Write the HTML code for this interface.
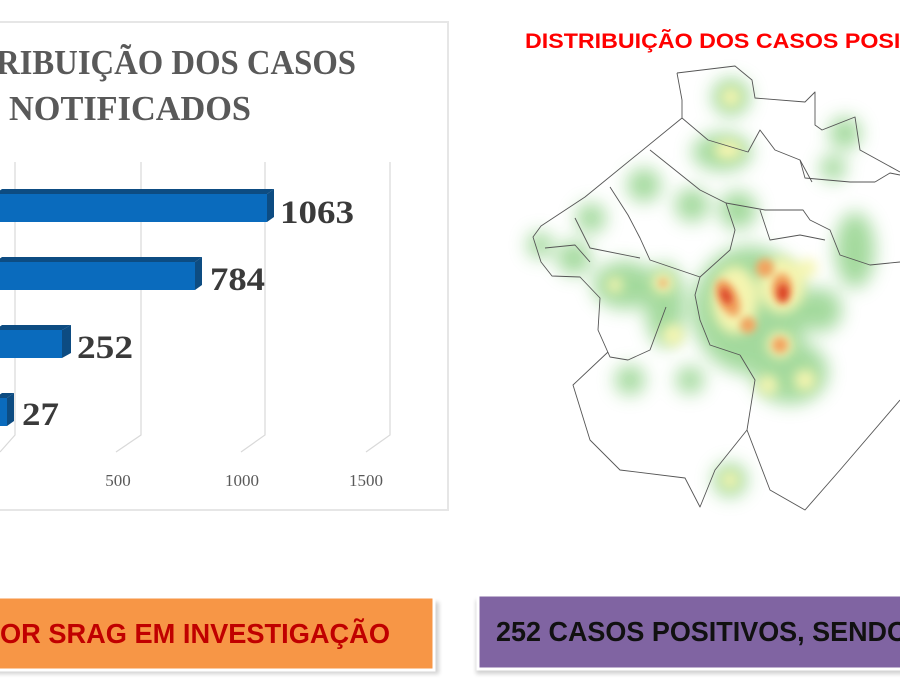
<!DOCTYPE html>
<html><head><meta charset="utf-8"><style>
html,body{margin:0;padding:0;background:#fff;width:900px;height:700px;overflow:hidden}
</style></head><body>
<svg width="900" height="700" viewBox="0 0 900 700" xmlns="http://www.w3.org/2000/svg">
<defs>
<filter id="b1" x="-50%" y="-50%" width="200%" height="200%"><feGaussianBlur stdDeviation="9"/></filter>
<filter id="b2" x="-50%" y="-50%" width="200%" height="200%"><feGaussianBlur stdDeviation="6"/></filter>
<filter id="b3" x="-50%" y="-50%" width="200%" height="200%"><feGaussianBlur stdDeviation="4"/></filter>
<filter id="sh"><feGaussianBlur stdDeviation="2"/></filter>
</defs>
<!-- left chart box -->
<rect x="-2" y="22" width="450" height="488" fill="#fff" stroke="#e6e6e6" stroke-width="2"/>
<g font-family="Liberation Serif, serif" font-weight="bold" fill="#595959" font-size="35">
<text x="-4" y="74" textLength="360" lengthAdjust="spacingAndGlyphs">RIBUIÇÃO DOS CASOS</text>
<text x="9" y="120" textLength="242" lengthAdjust="spacingAndGlyphs">NOTIFICADOS</text>
</g>
<!-- gridlines -->
<g stroke="#d9d9d9" stroke-width="1.2" fill="none">
<polyline points="15,162 15,435 0,452"/>
<polyline points="141,162 141,435 116,452"/>
<polyline points="265,162 265,435 241,452"/>
<polyline points="390,162 390,435 366,452"/>
</g>
<g font-family="Liberation Serif, serif" font-size="17" fill="#595959" text-anchor="middle">
<text x="118" y="486">500</text><text x="242" y="486">1000</text><text x="366" y="486">1500</text>
</g>
<!-- bars -->
<g>
<rect x="-5" y="194" width="272" height="28" fill="#0a6bbd"/>
<polygon points="-5,194 267,194 274,189 2,189" fill="#0d4c82"/>
<polygon points="267,194 274,189 274,217 267,222" fill="#0d4c82"/>
<rect x="-5" y="262" width="200" height="28" fill="#0a6bbd"/>
<polygon points="-5,262 195,262 202,257 2,257" fill="#0d4c82"/>
<polygon points="195,262 202,257 202,285 195,290" fill="#0d4c82"/>
<rect x="-5" y="330" width="67" height="28" fill="#0a6bbd"/>
<polygon points="-5,330 62,330 71,325 2,325" fill="#0d4c82"/>
<polygon points="62,330 71,325 71,353 62,358" fill="#0d4c82"/>
<rect x="-5" y="398" width="12" height="28" fill="#0a6bbd"/>
<polygon points="7,398 14,393 14,421 7,426" fill="#0d4c82"/>
<polygon points="-5,398 7,398 14,393 2,393" fill="#0d4c82"/>
</g>
<g font-family="Liberation Serif, serif" font-weight="bold" font-size="33" fill="#3a3a3a">
<text x="280" y="223" textLength="74" lengthAdjust="spacingAndGlyphs">1063</text>
<text x="210" y="290" textLength="55" lengthAdjust="spacingAndGlyphs">784</text>
<text x="77" y="358" textLength="56" lengthAdjust="spacingAndGlyphs">252</text>
<text x="22" y="425" textLength="37" lengthAdjust="spacingAndGlyphs">27</text>
</g>
<!-- map title -->
<text x="525" y="48" font-family="Liberation Sans, sans-serif" font-weight="bold" font-size="21" fill="#ff0000" textLength="445" lengthAdjust="spacingAndGlyphs">DISTRIBUIÇÃO DOS CASOS POSITIVOS</text>
<!-- heat: green -->
<g filter="url(#b1)" fill="#9fd898" opacity="0.95">
<circle cx="731" cy="97" r="19"/><ellipse cx="722" cy="152" rx="30" ry="19"/>
<circle cx="845" cy="133" r="16"/><circle cx="833" cy="168" r="13"/>
<circle cx="738" cy="210" r="19"/><circle cx="644" cy="185" r="17"/>
<circle cx="692" cy="205" r="17"/><circle cx="591" cy="218" r="15"/>
<circle cx="574" cy="258" r="17"/><circle cx="540" cy="245" r="13"/>
<ellipse cx="625" cy="285" rx="32" ry="24"/><ellipse cx="665" cy="305" rx="20" ry="42"/>
<ellipse cx="750" cy="310" rx="58" ry="64"/><ellipse cx="790" cy="372" rx="38" ry="32"/>
<ellipse cx="855" cy="250" rx="20" ry="38"/><circle cx="730" cy="480" r="17"/>
<circle cx="630" cy="380" r="15"/><circle cx="690" cy="380" r="14"/>
<circle cx="820" cy="310" r="22"/>
</g>
<g filter="url(#b2)" fill="#f5f5b0">
<circle cx="731" cy="97" r="10"/><ellipse cx="728" cy="150" rx="14" ry="10"/>
<circle cx="663" cy="283" r="11"/><circle cx="673" cy="335" r="11"/>
<ellipse cx="735" cy="300" rx="23" ry="34"/><ellipse cx="782" cy="285" rx="23" ry="28"/>
<circle cx="808" cy="268" r="9"/><circle cx="780" cy="345" r="13"/>
<circle cx="768" cy="385" r="10"/><circle cx="805" cy="380" r="11"/>
<circle cx="730" cy="480" r="9"/><circle cx="615" cy="285" r="8"/>
</g>
<g filter="url(#b3)" fill="#f2a35f">
<ellipse cx="728" cy="298" rx="10" ry="20" transform="rotate(-25 728 298)"/>
<circle cx="748" cy="325" r="8"/><circle cx="765" cy="268" r="9"/>
<ellipse cx="782" cy="288" rx="10" ry="15"/><circle cx="780" cy="345" r="8"/>
<circle cx="663" cy="283" r="4"/>
</g>
<g filter="url(#b3)" fill="#d7301f">
<ellipse cx="783" cy="293" rx="5" ry="9"/><ellipse cx="726" cy="296" rx="4" ry="9" transform="rotate(-25 726 296)"/>
</g>
<!-- map outlines -->
<g stroke="#555" stroke-width="0.9" fill="none" stroke-linejoin="round">
<path d="M677,73 L735,66 L752,80 L755,98 L805,102 L815,92 L815,125 L822,130 L855,117 L860,150 L900,172"/>
<path d="M677,73 L682,100 L682,118 L585,197 L541,226 L533,237 L541,262 L552,276 L580,277 L600,298 L598,330 L610,357 L628,360 L650,350 L666,307"/>
<path d="M682,118 L708,140 L748,152 L760,130 L775,150 L800,160 L805,178 L850,182 L875,182"/>
<path d="M650,150 L700,190 L726,203 L765,210 L803,210 L810,220 L830,230 L840,255 L855,260 L870,265 L900,262"/>
<path d="M610,187 L628,215 L640,238 L650,260 L700,277 L730,250 L735,230 L726,203"/>
<path d="M575,218 L590,248 L640,258"/>
<path d="M700,277 L695,295 L700,320 L710,345 L740,355"/>
<path d="M740,355 L755,380 L747,430 L715,470 L700,507 L685,478 L620,470 L590,440 L573,385 L608,352"/>
<path d="M747,430 L770,490 L805,510 L840,470 L900,400"/>
<path d="M875,182 L890,173 L900,175 M800,160 L812,182"/>
<path d="M545,248 L575,245 L590,262 M760,210 L770,240 L800,235 L825,240"/>
</g>
<!-- bottom boxes -->
<rect x="-5" y="602" width="444" height="72" fill="#000" opacity="0.18" filter="url(#sh)"/>
<rect x="-5" y="597" width="439" height="73" fill="#f79646" stroke="#fff" stroke-width="3"/>
<text x="0" y="643" font-family="Liberation Sans, sans-serif" font-weight="bold" font-size="28" fill="#c00000" textLength="390" lengthAdjust="spacingAndGlyphs">OR SRAG EM INVESTIGAÇÃO</text>
<rect x="476" y="600" width="430" height="74" fill="#000" opacity="0.18" filter="url(#sh)"/>
<rect x="478" y="595" width="430" height="74" fill="#8064a2" stroke="#fff" stroke-width="3"/>
<text x="496" y="641" font-family="Liberation Sans, sans-serif" font-weight="bold" font-size="28" fill="#111" textLength="412" lengthAdjust="spacingAndGlyphs">252 CASOS POSITIVOS, SENDO</text>
</svg>
</body></html>
